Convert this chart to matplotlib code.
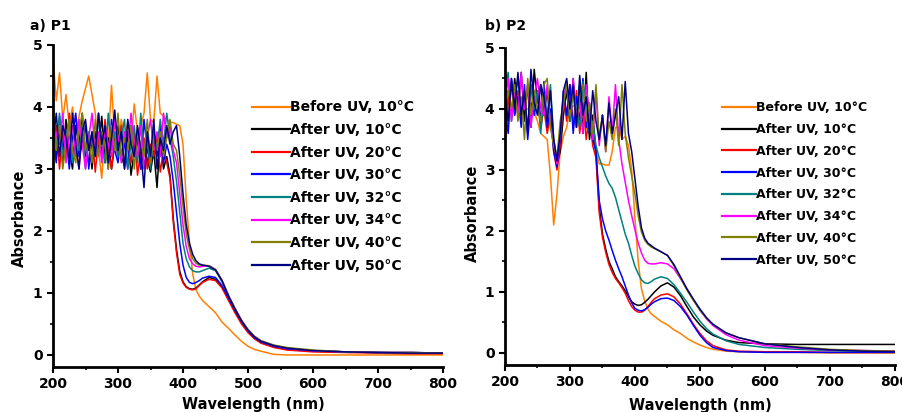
import matplotlib
matplotlib.use('Agg')
import matplotlib.pyplot as plt
from matplotlib.ticker import MultipleLocator

# ---- data ----
LABELS = ['Before UV, 10°C', 'After UV, 10°C', 'After UV, 20°C', 'After UV, 30°C',
          'After UV, 32°C', 'After UV, 34°C', 'After UV, 40°C', 'After UV, 50°C']
COLORS = ['#ff8000', '#000000', '#ff0000', '#0000ff',
          '#008080', '#ff00ff', '#808000', '#000080']

# panel a) P1
L_WL = [200, 205, 210, 215, 220, 225, 230, 235, 240, 245,
        250, 255, 260, 265, 270, 275, 280, 285, 290, 295,
        300, 305, 310, 315, 320, 325, 330, 335, 340, 345,
        350, 355, 360, 365, 370, 375, 380, 385, 390, 395,
        400, 405, 410, 415, 420, 425, 430, 440, 450,
        460, 470, 480, 490, 500, 510, 520, 540, 560, 600, 650, 700, 750, 800]

L_BEFORE = [4.8, 4.1, 4.55, 3.8, 4.2, 3.7, 4.0, 3.55, 3.85, 4.1,
            4.3, 4.5, 4.2, 3.9, 3.3, 2.85, 3.6, 3.4, 4.35, 3.5,
            3.3, 3.8, 3.5, 3.75, 3.45, 4.05, 3.6, 3.7, 3.9, 4.55,
            3.8, 3.75, 4.5, 3.9, 3.85, 3.8, 3.75, 3.75, 3.72, 3.7,
            3.4, 2.5, 1.8, 1.3, 1.05, 0.95, 0.88, 0.78, 0.68,
            0.53, 0.43, 0.32, 0.22, 0.14, 0.09, 0.06, 0.01, 0.0, 0.0, 0.0, 0.0, 0.0, 0.0]
L_10 = [3.9, 3.2, 3.6, 3.1, 3.8, 3.3, 3.0, 3.7, 3.4, 3.9,
        3.2, 3.5, 3.0, 3.6, 3.3, 3.85, 3.1, 3.5, 3.0, 3.4,
        3.7, 3.2, 3.05, 3.6, 2.9, 3.3, 3.5, 3.0, 3.4, 3.15,
        2.95, 3.3, 2.7, 3.5, 3.0, 3.2, 2.9, 2.2, 1.7, 1.35,
        1.18, 1.1, 1.07, 1.06, 1.08, 1.13, 1.18, 1.25, 1.22,
        1.1, 0.9, 0.7, 0.53, 0.38, 0.27, 0.2, 0.13, 0.1, 0.06, 0.05, 0.04, 0.03, 0.03]
L_20 = [3.3, 3.7, 3.0, 3.6, 3.2, 3.9, 3.1, 3.4, 3.0, 3.7,
        3.3, 3.1, 3.6, 2.95, 3.5, 3.2, 3.8, 3.3, 3.0, 3.5,
        3.2, 3.7, 3.0, 3.4, 3.1, 3.6, 2.9, 3.3, 3.5, 3.0,
        3.4, 3.2, 3.55, 2.95, 3.3, 3.1, 2.85, 2.15, 1.65, 1.3,
        1.16, 1.09, 1.06, 1.05, 1.07, 1.12, 1.17, 1.22, 1.2,
        1.08, 0.88, 0.68, 0.5, 0.36, 0.26, 0.19, 0.12, 0.08, 0.05, 0.04, 0.03, 0.02, 0.02]
L_30 = [3.5, 3.1, 3.85, 3.3, 3.6, 3.0, 3.5, 3.9, 3.2, 3.4,
        3.7, 3.0, 3.5, 3.3, 3.9, 3.2, 3.6, 3.0, 3.8, 3.3,
        3.1, 3.6, 3.4, 3.0, 3.7, 3.2, 3.5, 3.0, 3.8, 3.3,
        3.1, 3.5, 3.2, 3.7, 3.1, 3.4, 3.2, 2.8, 2.3, 1.8,
        1.45, 1.25, 1.17, 1.15, 1.17, 1.2, 1.24, 1.27, 1.25,
        1.12, 0.92, 0.72, 0.54, 0.39, 0.28, 0.21, 0.14, 0.1, 0.07, 0.05, 0.04, 0.04, 0.03]
L_32 = [3.7, 3.3, 3.9, 3.2, 3.5, 3.8, 3.1, 3.5, 3.3, 3.7,
        3.0, 3.6, 3.4, 3.2, 3.8, 3.5, 3.1, 3.9, 3.3, 3.6,
        3.2, 3.5, 3.8, 3.0, 3.4, 3.7, 3.1, 3.9, 3.3, 3.5,
        3.0, 3.6, 3.3, 3.8, 3.4, 3.9, 3.5, 3.2, 2.8, 2.3,
        1.8, 1.55, 1.42, 1.36, 1.34, 1.34, 1.36, 1.4, 1.36,
        1.18, 0.95, 0.74, 0.55, 0.4, 0.29, 0.22, 0.15, 0.11, 0.07, 0.05, 0.04, 0.04, 0.03]
L_34 = [3.2, 3.6, 3.4, 3.9, 3.1, 3.5, 3.7, 3.2, 3.8, 3.4,
        3.0, 3.5, 3.9, 3.3, 3.6, 3.1, 3.7, 3.4, 3.2, 3.8,
        3.5, 3.1, 3.6, 3.3, 3.9, 3.4, 3.2, 3.7, 3.0, 3.5,
        3.8, 3.3, 3.6, 3.2, 3.9, 3.5, 3.7, 3.3, 3.1, 2.6,
        2.1, 1.75, 1.55, 1.47, 1.43, 1.42, 1.43, 1.44, 1.38,
        1.2, 0.96, 0.75, 0.56, 0.41, 0.3, 0.23, 0.15, 0.11, 0.07, 0.05, 0.04, 0.04, 0.03]
L_40 = [3.6, 3.3, 3.7, 3.0, 3.4, 3.8, 3.3, 3.1, 3.6, 3.9,
        3.3, 3.5, 3.1, 3.8, 3.2, 3.6, 3.4, 3.0, 3.7, 3.3,
        3.9, 3.2, 3.5, 3.3, 3.7, 3.0, 3.6, 3.4, 3.2, 3.8,
        3.1, 3.5, 3.3, 3.6, 3.2, 3.5, 3.8, 3.4, 3.3, 2.9,
        2.4, 1.95, 1.7, 1.55, 1.48, 1.45, 1.45, 1.44, 1.38,
        1.2, 0.96, 0.75, 0.56, 0.41, 0.3, 0.23, 0.16, 0.12, 0.08, 0.05, 0.04, 0.04, 0.03]
L_50 = [3.4, 3.9, 3.2, 3.7, 3.5, 3.1, 3.9, 3.4, 3.0, 3.6,
        3.8, 3.3, 3.6, 3.2, 3.9, 3.4, 3.7, 3.1, 3.5, 3.95,
        3.3, 3.6, 3.0, 3.8, 3.4, 3.2, 3.7, 3.3, 2.7, 3.6,
        3.2, 3.8, 3.0, 3.5, 3.3, 3.7, 3.4, 3.6, 3.7, 3.2,
        2.6, 2.1, 1.8, 1.62, 1.52, 1.47, 1.45, 1.43, 1.37,
        1.2, 0.95, 0.74, 0.55, 0.4, 0.29, 0.22, 0.15, 0.11, 0.07, 0.05, 0.04, 0.03, 0.03]

# panel b) P2
R_WL = [200, 205, 210, 215, 220, 225, 230, 235, 240, 245,
        250, 255, 260, 265, 270, 275, 280, 285, 290, 295,
        300, 305, 310, 315, 320, 325, 330, 335, 340, 345,
        350, 355, 360, 365, 370, 375, 380, 385, 390, 395,
        400, 405, 410, 415, 420, 425, 430,
        440, 450, 460, 470, 480, 490, 500, 510, 520, 540, 560, 600, 650, 700, 750, 800]

R_BEFORE = [3.5, 3.9, 4.0, 4.0, 4.0, 4.0, 4.0, 4.0, 4.0, 3.95,
            3.8, 3.6, 3.55, 3.5, 2.9, 2.1, 2.6, 3.3, 3.55, 3.7,
            4.0, 4.05, 4.05, 4.05, 4.0, 3.7, 3.6, 3.6, 3.3, 3.1,
            3.1, 3.08, 3.08, 3.3, 3.7, 3.7, 3.5, 3.55, 3.4, 3.0,
            2.2, 1.5, 1.05, 0.85, 0.72, 0.64, 0.6,
            0.52, 0.46, 0.38, 0.32, 0.24, 0.18, 0.13, 0.09, 0.06, 0.03, 0.02, 0.01, 0.01, 0.0, 0.0, 0.0]
R_10 = [3.6, 4.3, 3.9, 4.5, 4.0, 4.6, 3.8, 4.4, 3.7, 4.65,
        4.1, 4.4, 3.9, 4.3, 3.8, 3.4, 3.1, 3.3, 3.9, 4.3,
        3.8, 4.5, 3.7, 4.4, 3.6, 4.6, 3.5, 3.9, 3.3, 2.4,
        1.95, 1.7, 1.5, 1.38, 1.25, 1.17, 1.1, 1.02, 0.92, 0.84,
        0.8, 0.78, 0.79, 0.83, 0.88, 0.94, 1.0,
        1.1, 1.15, 1.08, 0.94, 0.76, 0.59, 0.46, 0.36, 0.29, 0.21, 0.17, 0.15, 0.14, 0.14, 0.14, 0.14]
R_20 = [3.4, 4.1, 4.4, 3.9, 4.3, 3.8, 4.2, 3.6, 4.4, 3.9,
        4.3, 3.7, 4.0, 3.6, 3.9, 3.3, 3.0, 3.4, 4.2, 3.8,
        4.4, 3.7, 4.3, 3.6, 4.1, 3.5, 3.9, 3.4, 3.2, 2.3,
        1.9, 1.65, 1.45, 1.32, 1.22, 1.15, 1.07, 0.98, 0.86, 0.76,
        0.7, 0.67, 0.67, 0.7, 0.76, 0.83, 0.89,
        0.95, 0.97, 0.92, 0.8, 0.64, 0.47, 0.32, 0.2, 0.12, 0.05, 0.03, 0.02, 0.02, 0.01, 0.01, 0.01]
R_30 = [4.0, 3.6, 4.5, 3.9, 4.2, 3.7, 4.4, 3.5, 4.1, 3.9,
        4.3, 3.8, 4.45, 3.7, 4.0, 3.3, 3.05, 3.5, 4.3, 3.9,
        4.4, 3.6, 4.2, 3.8, 4.5, 3.7, 4.1, 3.5, 3.3, 2.5,
        2.2, 2.0, 1.85, 1.68, 1.52, 1.38, 1.25, 1.1, 0.95, 0.82,
        0.73, 0.7, 0.69, 0.71, 0.75, 0.8, 0.84,
        0.89, 0.9, 0.86, 0.76, 0.62, 0.45, 0.29, 0.17, 0.09, 0.04, 0.02, 0.01, 0.01, 0.01, 0.01, 0.01]
R_32 = [4.3, 4.6, 3.8, 4.2, 4.5, 3.9, 4.1, 3.7, 4.4, 4.0,
        4.3, 3.6, 4.2, 3.9, 4.4, 3.5, 3.2, 3.6, 4.1, 4.4,
        3.8, 4.3, 4.0, 3.7, 4.45, 3.9, 3.6, 3.8, 3.4, 3.2,
        3.05, 2.9, 2.78, 2.7, 2.55, 2.35, 2.15, 1.95, 1.8, 1.6,
        1.42, 1.3, 1.2, 1.15, 1.14, 1.17, 1.21,
        1.25, 1.22, 1.12, 0.98, 0.83, 0.67, 0.52, 0.4, 0.31, 0.2, 0.14, 0.09, 0.06, 0.04, 0.03, 0.03]
R_34 = [4.1, 4.5, 3.8, 4.3, 3.9, 4.6, 4.0, 4.4, 3.7, 4.2,
        4.5, 4.0, 3.9, 4.4, 3.7, 3.5, 3.1, 3.6, 4.2, 4.4,
        3.9, 4.5, 3.8, 4.1, 3.6, 4.4, 3.9, 3.5, 4.3, 3.4,
        3.9, 3.3, 4.2, 3.6, 4.4, 3.5, 3.1, 2.8, 2.5, 2.25,
        2.02, 1.8, 1.64, 1.52, 1.47, 1.46, 1.46,
        1.48, 1.46, 1.38, 1.22, 1.05, 0.87, 0.7, 0.56, 0.45, 0.3, 0.21, 0.12, 0.08, 0.05, 0.04, 0.03]
R_40 = [3.9, 4.3, 4.0, 4.4, 3.8, 4.2, 3.5, 4.5, 3.9, 4.3,
        4.0, 3.8, 4.4, 4.5, 3.7, 3.4, 3.2, 3.8, 4.1, 4.4,
        3.9, 4.3, 3.7, 4.2, 4.4, 3.8, 4.1, 3.6, 4.4, 3.5,
        3.9, 3.3, 3.8, 3.5, 4.0, 3.4, 4.4, 3.6, 3.2, 2.9,
        2.6, 2.25, 1.98, 1.85, 1.78, 1.74, 1.71,
        1.66, 1.6, 1.43, 1.23, 1.03, 0.86, 0.7, 0.57, 0.47, 0.33, 0.25, 0.15, 0.1, 0.06, 0.04, 0.03]
R_50 = [4.2, 3.8, 4.5, 4.0, 4.6, 3.9, 4.3, 3.6, 4.65, 4.1,
        3.9, 4.4, 4.2, 3.8, 4.3, 3.5, 3.15, 3.6, 4.3, 4.5,
        4.0, 4.4, 3.7, 4.55, 3.9, 4.2, 3.6, 4.3, 3.8, 3.5,
        3.9, 3.4, 4.1, 3.6, 3.9, 4.2, 3.5, 4.45, 3.6, 3.3,
        2.85, 2.4, 2.05, 1.88, 1.8, 1.76, 1.72,
        1.66, 1.6, 1.45, 1.25, 1.05, 0.88, 0.72, 0.58, 0.47, 0.33, 0.25, 0.15, 0.09, 0.05, 0.03, 0.02]

PANELS = [
    ('a) P1', L_WL, [L_BEFORE, L_10, L_20, L_30, L_32, L_34, L_40, L_50]),
    ('b) P2', R_WL, [R_BEFORE, R_10, R_20, R_30, R_32, R_34, R_40, R_50]),
]


def style_axis(ax):
    ax.set_xlim(200, 800)
    ax.xaxis.set_major_locator(MultipleLocator(100))
    ax.xaxis.set_minor_locator(MultipleLocator(50))
    ax.yaxis.set_major_locator(MultipleLocator(1))
    ax.yaxis.set_minor_locator(MultipleLocator(0.5))
    for side in ('top', 'right'):
        ax.spines[side].set_visible(False)
    for side in ('left', 'bottom'):
        ax.spines[side].set_linewidth(2)
    ax.tick_params(which='major', direction='out', length=4, width=1.5, labelsize=10)
    ax.tick_params(which='minor', direction='out', length=2.5, width=1.2)
    for lab in ax.get_xticklabels() + ax.get_yticklabels():
        lab.set_fontweight('bold')


def main():
    plt.rcParams['font.family'] = ['DejaVu Sans']
    plt.rcParams['font.weight'] = 'bold'

    fig = plt.figure(figsize=(9.03, 4.12), dpi=100)
    ax1 = fig.add_axes([0.0587, 0.1092, 0.4319, 0.7816])
    ax2 = fig.add_axes([0.5592, 0.1141, 0.4319, 0.7694])

    # legend / label placement per panel
    cfg = [
        dict(ax=ax1, ylim=(-0.194, 5), title_x=30, leg=(0.510, 0.828), fs=10,
             hl=2.75, ls=0.62, xl=(0.513, -0.093), yl=(-0.067, 0.463)),
        dict(ax=ax2, ylim=(-0.197, 5), title_x=485, leg=(0.556, 0.832), fs=9,
             hl=2.75, ls=0.70, xl=(0.5, -0.104), yl=(-0.064, 0.48)),
    ]

    for (title, wl, series), c in zip(PANELS, cfg):
        ax = c['ax']
        for vals, col, lab in zip(series, COLORS, LABELS):
            ax.plot(wl, vals, color=col, lw=1.1, label=lab)
        ax.set_ylim(*c['ylim'])
        style_axis(ax)
        ax.set_xlabel('Wavelength (nm)', fontsize=10.5, fontweight='bold')
        ax.set_ylabel('Absorbance', fontsize=10.5, fontweight='bold')
        ax.xaxis.set_label_coords(*c['xl'])
        ax.yaxis.set_label_coords(*c['yl'])
        leg = ax.legend(loc='upper left', bbox_to_anchor=c['leg'], frameon=False,
                        fontsize=c['fs'], handlelength=c['hl'], handletextpad=0.0,
                        borderpad=0, borderaxespad=0, labelspacing=c['ls'])
        for line in leg.get_lines():
            line.set_linewidth(1.6)
        fig.text(c['title_x'] / 903, 1 - 26 / 412, title, ha='left', va='center',
                 fontsize=10, fontweight='bold')

    fig.savefig('out.png', dpi=100)


if __name__ == '__main__':
    main()
